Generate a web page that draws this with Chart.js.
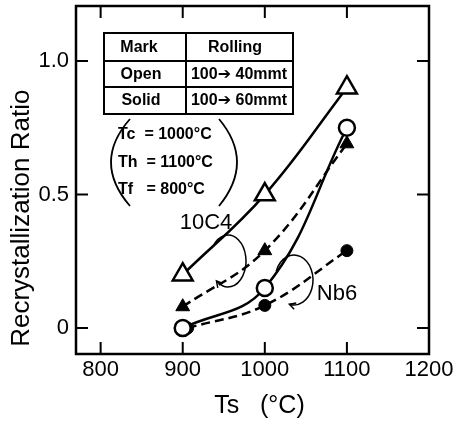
<!DOCTYPE html>
<html>
<head>
<meta charset="utf-8">
<script src="https://cdn.jsdelivr.net/npm/chart.js@4/dist/chart.umd.min.js"></script>
<style>
  body { margin: 0; background: #fff; }
  #wrap { width: 458px; height: 421px; }
</style>
</head>
<body>
<div id="wrap"><canvas id="myChart"></canvas></div>
<script>
// values
var tsTicks = [800, 900, 1000, 1100, 1200];
var ratioTicks = [0, 0.5, 1.0];
var ratioLabels = ['0', '0.5', '1.0'];

var ts = [900, 1000, 1100];
var tsSolidCirc = [906, 1000, 1100];   // solid circle at 900 sits a bit right of the open one
var c4Open = [0.20, 0.50, 0.90];       // 10C4, 100->40mmt
var c4Solid = [0.08, 0.29, 0.69];      // 10C4, 100->60mmt
var nb6Open = [0.0, 0.15, 0.75];       // Nb6, 100->40mmt
var nb6Solid = [0.0, 0.085, 0.29];     // Nb6, 100->60mmt

function pts(xs, ys) {
  return ys.map(function(y, i) { return { x: xs[i], y: y }; });
}

var FONT = "'Liberation Sans', Arial, 'DejaVu Sans', sans-serif";

// table, condition text, curved arrows, frame + inward ticks
var extras = {
  id: 'extras',
  afterDatasetsDraw: function(chart) {
    var ctx = chart.ctx;
    var ca = chart.chartArea;
    var xs = chart.scales.x, ys = chart.scales.y;
    var L = ca.left, T = ca.top;
    function px(v) { return L + (v - 76); }
    function py(v) { return T + (v - 6); }

    ctx.save();
    ctx.strokeStyle = '#000';
    ctx.fillStyle = '#000';

    // frame
    ctx.lineWidth = 2.5;
    ctx.strokeRect(ca.left, ca.top, ca.right - ca.left, ca.bottom - ca.top);

    // inward ticks
    ctx.lineWidth = 2;
    ctx.beginPath();
    tsTicks.forEach(function(v) {
      var x = xs.getPixelForValue(v);
      if (x >= ca.right - 1) return;
      ctx.moveTo(x, ca.bottom); ctx.lineTo(x, ca.bottom - 12);
      ctx.moveTo(x, ca.top); ctx.lineTo(x, ca.top + 12);
    });
    ratioTicks.forEach(function(v) {
      var y = ys.getPixelForValue(v);
      ctx.moveTo(ca.left, y); ctx.lineTo(ca.left + 12, y);
      ctx.moveTo(ca.right, y); ctx.lineTo(ca.right - 12, y);
    });
    ctx.stroke();

    // legend table
    ctx.lineWidth = 2;
    ctx.strokeRect(px(104), py(33), 189, 81);
    ctx.beginPath();
    ctx.moveTo(px(104), py(61)); ctx.lineTo(px(293), py(61));
    ctx.moveTo(px(104), py(87)); ctx.lineTo(px(293), py(87));
    ctx.moveTo(px(186), py(33)); ctx.lineTo(px(186), py(114));
    ctx.stroke();

    ctx.font = 'bold 16px ' + FONT;
    ctx.textAlign = 'center';
    ctx.textBaseline = 'middle';
    ctx.fillText('Mark', px(139), py(48));
    ctx.fillText('Rolling', px(235), py(48));
    ctx.fillText('Open', px(141), py(75));
    ctx.fillText('100➔ 40mmt', px(239), py(75));
    ctx.fillText('Solid', px(141), py(101));
    ctx.fillText('100➔ 60mmt', px(239), py(101));

    // heating conditions in parentheses
    ctx.textAlign = 'left';
    ctx.fillText('Tc  = 1000°C', px(118), py(135));
    ctx.fillText('Th  = 1100°C', px(118), py(163));
    ctx.fillText('Tf   = 800°C', px(118), py(190));
    ctx.lineWidth = 1.8;
    ctx.beginPath();
    ctx.moveTo(px(130), py(119));
    ctx.quadraticCurveTo(px(92), py(162), px(130), py(206));
    ctx.moveTo(px(219), py(119));
    ctx.quadraticCurveTo(px(255), py(162), px(219), py(206));
    ctx.stroke();

    // steel labels
    ctx.font = '22px ' + FONT;
    ctx.textAlign = 'center';
    ctx.fillText('10C4', px(206), py(223));
    ctx.fillText('Nb6', px(337), py(294));

    // curved arrows
    function curl(cx, cy, rx, ry, t0, t1) {
      ctx.lineWidth = 1.5;
      ctx.beginPath();
      ctx.ellipse(cx, cy, rx, ry, 0, t0, t1);
      ctx.stroke();
      var ex = cx + rx * Math.cos(t1), ey = cy + ry * Math.sin(t1);
      var dx = -rx * Math.sin(t1), dy = ry * Math.cos(t1);
      var a = Math.atan2(dy, dx);
      ctx.beginPath();
      ctx.moveTo(ex - 7 * Math.cos(a - 0.5), ey - 7 * Math.sin(a - 0.5));
      ctx.lineTo(ex, ey);
      ctx.lineTo(ex - 7 * Math.cos(a + 0.5), ey - 7 * Math.sin(a + 0.5));
      ctx.stroke();
    }
    curl(px(228), py(261), 18, 26, 3.75, 8.55);
    curl(px(294), py(280), 19, 25, 3.5, 8.1);

    ctx.restore();
  }
};

var ctx = document.getElementById('myChart').getContext('2d');
var myChart = new Chart(ctx, {
  type: 'scatter',
  data: {
    datasets: [{
      label: '10C4 open',
      data: pts(ts, c4Open),
      showLine: true,
      tension: 0.4,
      borderColor: '#000',
      borderWidth: 2.5,
      pointStyle: 'triangle',
      pointRadius: 11.5,
      pointBackgroundColor: '#fff',
      pointBorderWidth: 2.5
    }, {
      label: 'Nb6 open',
      data: pts(ts, nb6Open),
      showLine: true,
      tension: 0.4,
      borderColor: '#000',
      borderWidth: 2.5,
      pointStyle: 'circle',
      pointRadius: 8,
      pointBackgroundColor: '#fff',
      pointBorderWidth: 2.5
    }, {
      label: '10C4 solid',
      data: pts(ts, c4Solid),
      showLine: true,
      tension: 0.4,
      borderColor: '#000',
      borderWidth: 2.5,
      borderDash: [9, 5],
      pointStyle: 'triangle',
      pointRadius: 8,
      pointBackgroundColor: '#000',
      pointBorderWidth: 1
    }, {
      label: 'Nb6 solid',
      data: pts(tsSolidCirc, nb6Solid),
      showLine: true,
      tension: 0.4,
      borderColor: '#000',
      borderWidth: 2.5,
      borderDash: [9, 5],
      pointStyle: 'circle',
      pointRadius: 6,
      pointBackgroundColor: '#000',
      pointBorderWidth: 1
    }]
  },
  options: {
    responsive: true,
    maintainAspectRatio: false,
    animation: false,
    layout: { autoPadding: false, padding: { top: 6, right: 29, left: 0, bottom: 0 } },
    plugins: { legend: { display: false }, tooltip: { enabled: false } },
    scales: {
      x: {
        type: 'linear',
        min: 770,
        max: 1200,
        afterBuildTicks: function(scale) {
          scale.ticks = tsTicks.map(function(v) { return { value: v }; });
        },
        afterFit: function(scale) {
          scale.height = 67;
          scale.paddingLeft = 0;
          scale.paddingRight = 0;
        },
        grid: { display: false, drawTicks: false },
        border: { display: false },
        ticks: {
          color: '#000',
          padding: 3,
          maxRotation: 0,
          font: { family: FONT, size: 22 },
          callback: function(value) { return String(value); }
        },
        title: {
          display: true,
          text: '  Ts   (°C)',
          color: '#000',
          padding: { top: 0, bottom: 0 },
          font: { family: FONT, size: 25 }
        }
      },
      y: {
        min: -0.097,
        max: 1.206,
        afterBuildTicks: function(scale) {
          scale.ticks = ratioTicks.map(function(v) { return { value: v }; });
        },
        afterFit: function(scale) {
          scale.width = 76;
          scale.paddingTop = 0;
          scale.paddingBottom = 0;
        },
        grid: { display: false, drawTicks: false },
        border: { display: false },
        ticks: {
          color: '#000',
          padding: 7,
          font: { family: FONT, size: 22 },
          callback: function(value) {
            var i = ratioTicks.indexOf(value);
            return i >= 0 ? ratioLabels[i] : '';
          }
        },
        title: {
          display: true,
          text: ' Recrystallization Ratio',
          align: 'start',
          color: '#000',
          padding: { top: 6, bottom: 0 },
          font: { family: FONT, size: 26 }
        }
      }
    }
  },
  plugins: [extras]
});
</script>
</body>
</html>
